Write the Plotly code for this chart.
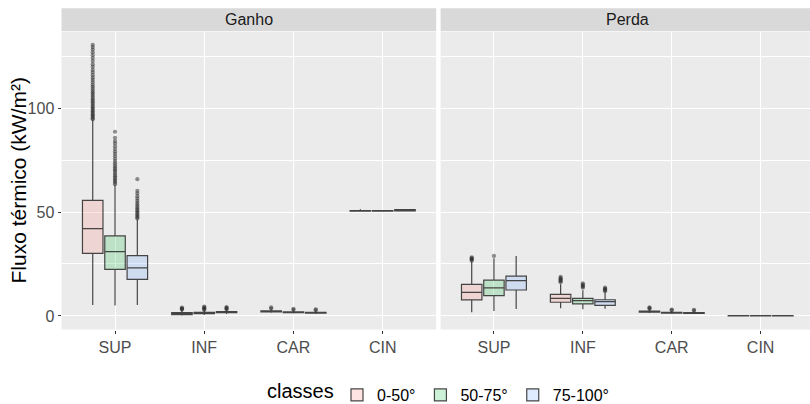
import plotly.graph_objects as go

# ---- data -------------------------------------------------------------
CATEGORIES = ["SUP", "INF", "CAR", "CIN"]
CLASSES = ["0-50°", "50-75°", "75-100°"]
PANELS = ["Ganho", "Perda"]
Y_TICKS = [0, 50, 100]

# box statistics: one row per class, values in CATEGORIES order
ganho_lower = [[5.3, 0.2, 1.6, 50.2], [5.0, 0.5, 1.2, 50.3], [5.3, 1.0, 1.0, 50.4]]
ganho_q1 = [[30.1, 0.7, 2.0, 50.45], [22.4, 1.1, 1.6, 50.45], [17.6, 1.6, 1.4, 50.5]]
ganho_median = [[42.0, 1.1, 2.3, 50.55], [30.9, 1.4, 1.8, 50.55], [23.1, 1.9, 1.6, 50.8]]
ganho_q3 = [[55.6, 1.6, 2.5, 50.65], [38.5, 1.7, 2.0, 50.65], [29.0, 2.1, 1.8, 51.1]]
ganho_upper = [[94.2, 2.9, 3.2, 51.3], [63.0, 2.6, 2.6, 50.8], [46.5, 2.8, 2.4, 51.3]]

perda_lower = [[1.8, 3.7, 1.4, 0.0], [2.4, 3.2, 1.0, 0.0], [3.4, 3.5, 0.9, 0.0]]
perda_q1 = [[7.7, 6.6, 1.8, 0.05], [9.8, 5.8, 1.4, 0.05], [12.5, 5.1, 1.2, 0.05]]
perda_median = [[11.4, 8.5, 2.1, 0.1], [13.5, 7.4, 1.6, 0.1], [17.0, 6.9, 1.4, 0.1]]
perda_q3 = [[15.2, 10.4, 2.3, 0.15], [17.2, 8.5, 1.8, 0.15], [19.2, 7.8, 1.6, 0.15]]
perda_upper = [[26.1, 15.2, 3.0, 0.2], [27.8, 12.4, 2.4, 0.2], [28.8, 11.3, 2.2, 0.2]]

# outlying observations: [class][category]
ganho_outliers = [
    [
        [94.6, 95.1, 95.8, 96.4, 97.0, 97.7, 98.3, 99.0, 99.6, 100.4, 101.1, 101.9,
         102.6, 103.4, 104.1, 105.0, 105.8, 106.7, 107.5, 108.4, 109.4, 110.3,
         111.2, 112.4, 113.5, 114.6, 115.8, 117.1, 118.3, 119.8, 121.0, 122.6,
         124.0, 125.4, 126.8, 128.1, 129.3, 130.4],
        [3.1, 3.4, 3.7, 4.0],
        [3.6, 4.1],
        [],
    ],
    [
        [63.4, 64.1, 64.9, 65.6, 66.4, 67.2, 68.0, 68.9, 69.8, 70.6, 71.5, 72.4,
         73.4, 74.5, 75.6, 76.8, 78.0, 79.1, 80.3, 81.6, 83.0, 84.1, 85.7, 88.6],
        [2.9, 3.3, 3.7, 4.1, 4.5],
        [3.0, 3.4],
        [],
    ],
    [
        [46.9, 47.5, 48.2, 48.9, 49.6, 50.3, 51.0, 51.8, 52.6, 53.5, 54.4, 55.4,
         56.5, 57.6, 59.0, 60.2, 65.8],
        [3.1, 3.5, 3.9, 4.3],
        [2.8, 3.2],
        [],
    ],
]
perda_outliers = [
    [[26.6, 27.0, 27.4, 27.8, 28.2], [16.2, 16.7, 17.2, 17.7, 18.2, 18.8], [3.4, 3.8, 4.1], []],
    [[28.9], [13.6, 14.1, 14.6, 15.1, 15.7], [2.8, 3.1], []],
    [[], [11.9, 12.3, 12.8, 13.2, 13.6], [2.6, 2.9], []],
]

# ---- styling ----------------------------------------------------------
FILLS = ["rgba(248,118,109,0.2)", "rgba(0,186,56,0.2)", "rgba(97,156,255,0.2)"]
LINE = "rgba(51,51,51,0.9)"
DODGE = 0.25
BOX_W = 0.23
FONT = "Liberation Sans, Arial, sans-serif"

panel_stats = {
    "Ganho": (ganho_lower, ganho_q1, ganho_median, ganho_q3, ganho_upper, ganho_outliers),
    "Perda": (perda_lower, perda_q1, perda_median, perda_q3, perda_upper, perda_outliers),
}

fig = go.Figure()
for p, panel in enumerate(PANELS):
    lower, q1, med, q3, upper, outl = panel_stats[panel]
    xa = "x" if p == 0 else "x2"
    ya = "y" if p == 0 else "y2"
    for k, cls in enumerate(CLASSES):
        pos = [i + 1 + (k - 1) * DODGE for i in range(len(CATEGORIES))]
        fig.add_trace(go.Box(
            x=pos, q1=q1[k], median=med[k], q3=q3[k],
            lowerfence=lower[k], upperfence=upper[k],
            width=BOX_W, whiskerwidth=0,
            fillcolor=FILLS[k], line=dict(color=LINE, width=1.2),
            name=cls, legendgroup=cls, showlegend=(p == 0),
            xaxis=xa, yaxis=ya, hoverinfo="skip",
        ))
        ox, oy = [], []
        for i, vals in enumerate(outl[k]):
            ox += [pos[i]] * len(vals)
            oy += vals
        fig.add_trace(go.Scatter(
            x=ox, y=oy, mode="markers",
            marker=dict(size=4.2, color="rgba(40,40,40,0.5)", line=dict(width=0)),
            showlegend=False, legendgroup=cls, xaxis=xa, yaxis=ya, hoverinfo="skip",
        ))

W, H = 810, 404
PANEL_W = 436.2 - 61.5
left_dom = [61.5 / W, 436.2 / W]
right_dom = [440.6 / W, 1.0]
y_dom = [(H - 329.5) / H, (H - 31.5) / H]
strip_y = [(H - 31.0) / H, (H - 8.3) / H]

xcommon = dict(
    tickvals=[1, 2, 3, 4], ticktext=CATEGORIES, showgrid=True,
    gridcolor="white", gridwidth=1.1, zeroline=False, ticks="outside",
    ticklen=3, tickcolor="#333333", tickwidth=1, automargin=False,
    tickfont=dict(family=FONT, size=16, color="#4D4D4D"), showline=False,
)
ycommon = dict(
    range=[-6.5, 136.8], tickvals=Y_TICKS, showgrid=True, gridcolor="white",
    gridwidth=1.1, zeroline=False, showline=False, domain=y_dom, automargin=False,
    minor=dict(tickvals=[25, 75, 125], showgrid=True, gridcolor="white",
               gridwidth=0.55, ticks=""),
)

fig.update_layout(
    width=W, height=H,
    margin=dict(l=0, r=0, t=0, b=0, autoexpand=False),
    paper_bgcolor="white", plot_bgcolor="#EBEBEB",
    boxmode="overlay",
    xaxis=dict(domain=left_dom, range=[0.4, 4.6], anchor="y", **xcommon),
    xaxis2=dict(domain=right_dom, range=[0.4, 0.4 + 369.4 / 88.9], anchor="y2", **xcommon),
    yaxis=dict(anchor="x", ticks="outside", ticklen=3, tickcolor="#333333",
               tickfont=dict(family=FONT, size=16, color="#4D4D4D"), **ycommon),
    yaxis2=dict(anchor="x2", matches="y", showticklabels=False, ticks="", **ycommon),
    legend=dict(
        orientation="h", x=337 / W, xanchor="left", y=(H - 395) / H, yanchor="middle",
        font=dict(family=FONT, size=16, color="black"), bgcolor="rgba(0,0,0,0)",
    ),
    font=dict(family=FONT),
)

shapes, annotations = [], []
for dom, label in zip([left_dom, right_dom], PANELS):
    shapes.append(dict(type="rect", xref="paper", yref="paper",
                       x0=dom[0], x1=dom[1], y0=strip_y[0], y1=strip_y[1],
                       fillcolor="#D9D9D9", line=dict(width=0), layer="below"))
    centre = dom[0] + PANEL_W / W / 2
    annotations.append(dict(text=label, xref="paper", yref="paper",
                            x=centre, xanchor="center",
                            y=(strip_y[0] + strip_y[1]) / 2, yanchor="middle",
                            showarrow=False,
                            font=dict(family=FONT, size=16, color="#1A1A1A")))
annotations.append(dict(text="Fluxo térmico (kW/m²)", xref="paper", yref="paper",
                        x=18 / W, xanchor="center", y=(y_dom[0] + y_dom[1]) / 2,
                        yanchor="middle", textangle=-90, showarrow=False,
                        font=dict(family=FONT, size=21, color="black")))
# legend heading
annotations.append(dict(text="classes", xref="paper", yref="paper",
                        x=265 / W, xanchor="left", y=0.0, yanchor="bottom",
                        showarrow=False, font=dict(family=FONT, size=20, color="black")))
fig.update_layout(shapes=shapes, annotations=annotations)

fig.write_html("out.html")
